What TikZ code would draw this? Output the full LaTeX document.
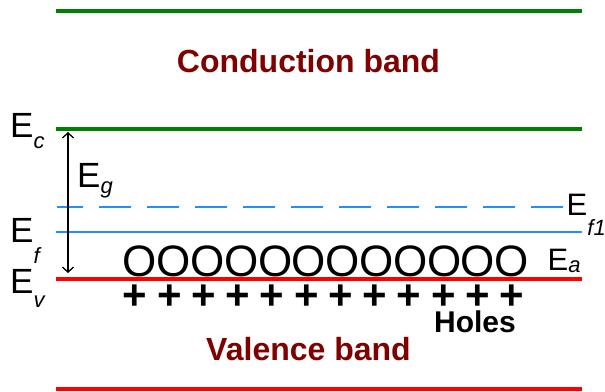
\documentclass[tikz,border=0pt]{standalone}
\usepackage{fontspec}
\setmainfont{Liberation Sans}
\usetikzlibrary{arrows.meta}
\definecolor{bandgreen}{RGB}{0,128,0}
\definecolor{bandred}{RGB}{255,0,0}
\definecolor{levelblue}{RGB}{30,144,255}
\definecolor{darkred}{RGB}{128,0,0}
\tikzset{
  greenline/.style={draw=bandgreen, line width=3.5pt},
  redline/.style={draw=bandred, line width=3.5pt},
  blueline/.style={draw=levelblue, line width=1.4pt},
  bandlabel/.style={anchor=base, inner sep=0pt, text=darkred, font=\fontsize{32}{32}\selectfont\bfseries},
  elabel/.style={anchor=base west, inner sep=0pt, font=\fontsize{35}{35}\selectfont},
  elabelsmall/.style={anchor=base west, inner sep=0pt, font=\fontsize{31}{31}\selectfont},
  acceptor/.style={anchor=base, inner sep=0pt, font=\fontsize{44}{44}\selectfont},
  hole/.style={anchor=center, inner sep=0pt, font=\fontsize{42}{42}\selectfont\bfseries},
}
\newcommand{\subsc}[2]{\raisebox{-#1pt}{\fontsize{22}{22}\selectfont\itshape #2}}
\begin{document}
\begin{tikzpicture}[x=1pt,y=-1pt]
\useasboundingbox (0,0) rectangle (605,391);
% band edges
\draw[greenline] (56,11) -- (582,11);
\draw[greenline] (56,129) -- (582,129);
\draw[redline] (56,279) -- (582,279);
\draw[redline] (56,389) -- (582,389);
% Fermi levels
\draw[blueline, dash pattern=on 32pt off 16pt, dash phase=6pt] (57,207) -- (568,207);
\draw[blueline] (56,232) -- (582,232);
% band gap arrow
\coordinate (gtop) at (68,132);
\coordinate (gbot) at (68,273);
\draw[line width=1.3pt, {Straight Barb[length=5pt,width=11pt]}-{Straight Barb[length=5pt,width=11pt]}] (gtop) -- (gbot);
% labels
\node[bandlabel] (cb) at (308.5,72) {Conduction band};
\node[bandlabel] (vb) at (308.5,360) {Valence band};
\node[anchor=base, inner sep=0pt, font=\fontsize{30}{30}\selectfont\bfseries] (holes) at (475,332) {Holes};
\node[elabel] (Ec) at (10,137) {E\subsc{11}{c}};
\node[elabel] (Eg) at (77,187) {E\subsc{6}{g}};
\node[elabel] (Ef) at (10,242) {E\subsc{21}{f}};
\node[elabel] (Ev) at (10,293) {E\subsc{14}{v}};
\node[elabelsmall] (Ef1) at (566.5,215) {E\subsc{20}{f1}};
\node[elabelsmall] (Ea) at (547.5,270) {E\subsc{2}{a}};
% acceptor atoms
\foreach \k in {0,...,11}{
  \node[acceptor] (o\k) at ({140+33.8*\k},276) {O};
}
% holes
\foreach \k in {0,...,11}{
  \node[hole] (h\k) at ({135+34.27*\k},297.5) {+};
}
\end{tikzpicture}
\end{document}
